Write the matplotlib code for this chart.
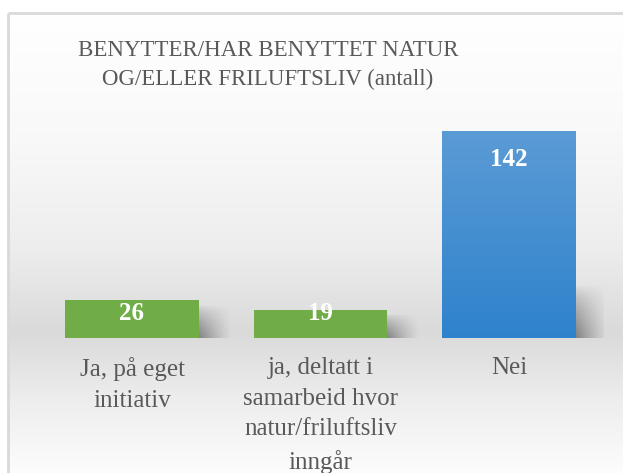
import matplotlib
matplotlib.use("Agg")
import matplotlib.pyplot as plt
import numpy as np
from matplotlib.colors import LinearSegmentedColormap

categories = ["Ja, på eget\ninitiativ",
              "ja, deltatt i\nsamarbeid hvor\nnatur/friluftsliv\ninngår",
              "Nei"]
values = [26, 19, 142]
bar_colors = ["#70ad47", "#70ad47", "#5b9bd5"]
title = "BENYTTER/HAR BENYTTET NATUR\nOG/ELLER FRILUFTSLIV (antall)"

W, H = 623, 473
fig = plt.figure(figsize=(W / 100, H / 100), dpi=100)
fig.patch.set_facecolor("white")
SERIF = ["Liberation Serif", "DejaVu Serif"]

# background gradient of chart area
bg = fig.add_axes([0, 0, 1, 1], zorder=-10)
bg.set_xlim(0, W)
bg.set_ylim(H, 0)
bg.axis("off")
ys = np.linspace(13, H, 300)
stops_y = [13, 140, 250, 332, 400, 473]
stops_v = [1.0, 0.975, 0.93, 0.855, 0.93, 0.99]
vals = np.interp(ys, stops_y, stops_v)
img = np.repeat(vals[:, None], 2, axis=1)
bg.imshow(np.dstack([img, img, img]), extent=[8, W, H, 13], aspect="auto", interpolation="bilinear")
bg.plot([8, 8], [H, 13], color="#d9d9d9", lw=2, solid_capstyle="butt")
bg.plot([8, W], [13, 13], color="#d9d9d9", lw=2, solid_capstyle="butt")

bg.text(268, 65, title, ha="center", va="center", fontsize=16.5, color="#595959",
        family=SERIF, linespacing=1.45)

# main axes
x0 = 37.75
ax_h = 338 - 104.7
ax = fig.add_axes([x0 / W, 1 - 338 / H, 565.5 / W, ax_h / H])
ax.patch.set_alpha(0)
for s in ax.spines.values():
    s.set_visible(False)
ax.set_yticks([])
xs = np.arange(len(values))
width = 0.71

# shadows
for x, v in zip(xs, values):
    sh_h = min(v * 0.85, 36)
    sx0 = x + width / 2
    sw = 0.17
    nx, ny = 60, 60
    gx = np.linspace(0, 1, nx)
    gy = np.linspace(0, 1, ny)
    GX, GY = np.meshgrid(gx, gy)
    alpha = (1 - GX) ** 1.2 * (1 - GY) ** 0.7 * 0.4
    rgba = np.zeros((ny, nx, 4))
    rgba[..., 3] = alpha
    ax.imshow(rgba, extent=[sx0, sx0 + sw, 0, sh_h], origin="lower", aspect="auto",
              interpolation="bilinear", zorder=1)

bars = ax.bar(xs, values, width=width, color=bar_colors, zorder=2)
# gradient on blue bar
blue_cmap = LinearSegmentedColormap.from_list("b", ["#2e82cc", "#5b9bd5"])
for b, c in zip(bars, bar_colors):
    if c == "#5b9bd5":
        b.set_facecolor("none")
        grad = np.linspace(0, 1, 256)[:, None]
        im = ax.imshow(grad, cmap=blue_cmap, origin="lower", aspect="auto",
                       extent=[b.get_x(), b.get_x() + b.get_width(), 0, b.get_height()], zorder=2)
        im.set_clip_path(b)

ax.set_xlim(-0.5, 2.5)
ax.set_ylim(0, 160)

for x, v in zip(xs, values):
    off = -26 if v > 60 else -11
    ax.annotate(str(v), xy=(x, max(v, 26)), xytext=(0, off * 0.72 - 1.5), textcoords="offset points",
                ha="center", va="center", fontsize=18, fontweight="bold", color="white",
                family=SERIF, zorder=5)

ax.set_xticks(xs)
ax.set_xticklabels(categories, fontsize=18, color="#595959", family=SERIF, linespacing=1.5)
ax.tick_params(axis="x", length=0, pad=14)

fig.savefig("out.png", dpi=100)
